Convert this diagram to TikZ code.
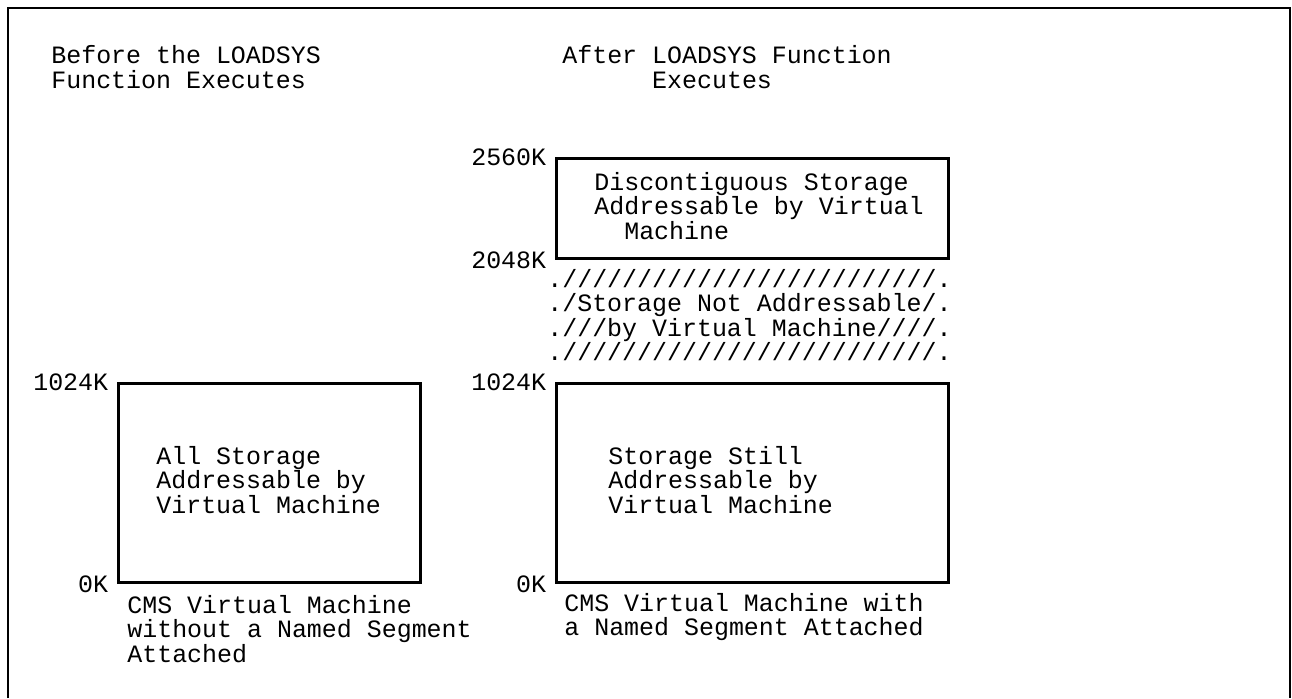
\documentclass[tikz,border=0pt]{standalone}
\usepackage{fontspec}
\newfontfamily\ibmmono{Liberation Mono}
\usetikzlibrary{positioning}

\newcommand{\slashrow}{/////////////////////////}

\tikzset{
  every node/.style={inner sep=0pt, font=\ibmmono\fontsize{14.2pt}{13.9pt}\selectfont},
  membox/.style={draw, line width=1.7pt, anchor=north west},
  addr/.style={anchor=east, xshift=-0.17cm},
  txt/.style={anchor=west, align=left},
}

\begin{document}
\begin{tikzpicture}[x=0.02cm, y=-0.02cm]
  \useasboundingbox (0,0) rectangle (1292,698);
  % open frame round the figure
  \draw[line width=1.1pt] (8,698) -- (8,8) -- (1290,8) -- (1290,698);

  % headings
  \node[txt] (hbefore) at (51,67) {Before the LOADSYS\\Function Executes};
  \node[txt] (hafter) at (562,67) {After LOADSYS Function\\\phantom{After\ }Executes};

  % before LOADSYS
  \node[membox, minimum width=6.04cm, minimum height=3.98cm] (vm1) at (117,382) {};
  \node[addr] (top1) at (vm1.north west) {1024K};
  \node[addr] (bot1) at (vm1.south west) {0K};
  \node[txt] (all) at (156,480) {All Storage\\Addressable by\\Virtual Machine};
  \node[txt] (cap1) at (127,629) {CMS Virtual Machine\\without a Named Segment\\Attached};

  % after LOADSYS
  \node[membox, minimum width=7.84cm, minimum height=2cm] (dcss) at (555,157) {};
  \node[addr] (top3) at (dcss.north west) {2560K};
  \node[addr] (bot3) at (dcss.south west) {2048K};
  \node[txt] (disc) at (594,206) {Discontiguous Storage\\Addressable by Virtual\\\phantom{Ad}Machine};

  \node[txt] (hole) at (547,315) {.\slashrow.\\./Storage Not Addressable/.\\.///by Virtual Machine////.\\.\slashrow.};

  \node[membox, minimum width=7.84cm, minimum height=3.98cm] (vm2) at (555,382) {};
  \node[addr] (top2) at (vm2.north west) {1024K};
  \node[addr] (bot2) at (vm2.south west) {0K};
  \node[txt] (still) at (608,480) {Storage Still\\Addressable by\\Virtual Machine};
  \node[txt] (cap2) at (564,617) {CMS Virtual Machine with\\a Named Segment Attached};

\end{tikzpicture}
\end{document}
